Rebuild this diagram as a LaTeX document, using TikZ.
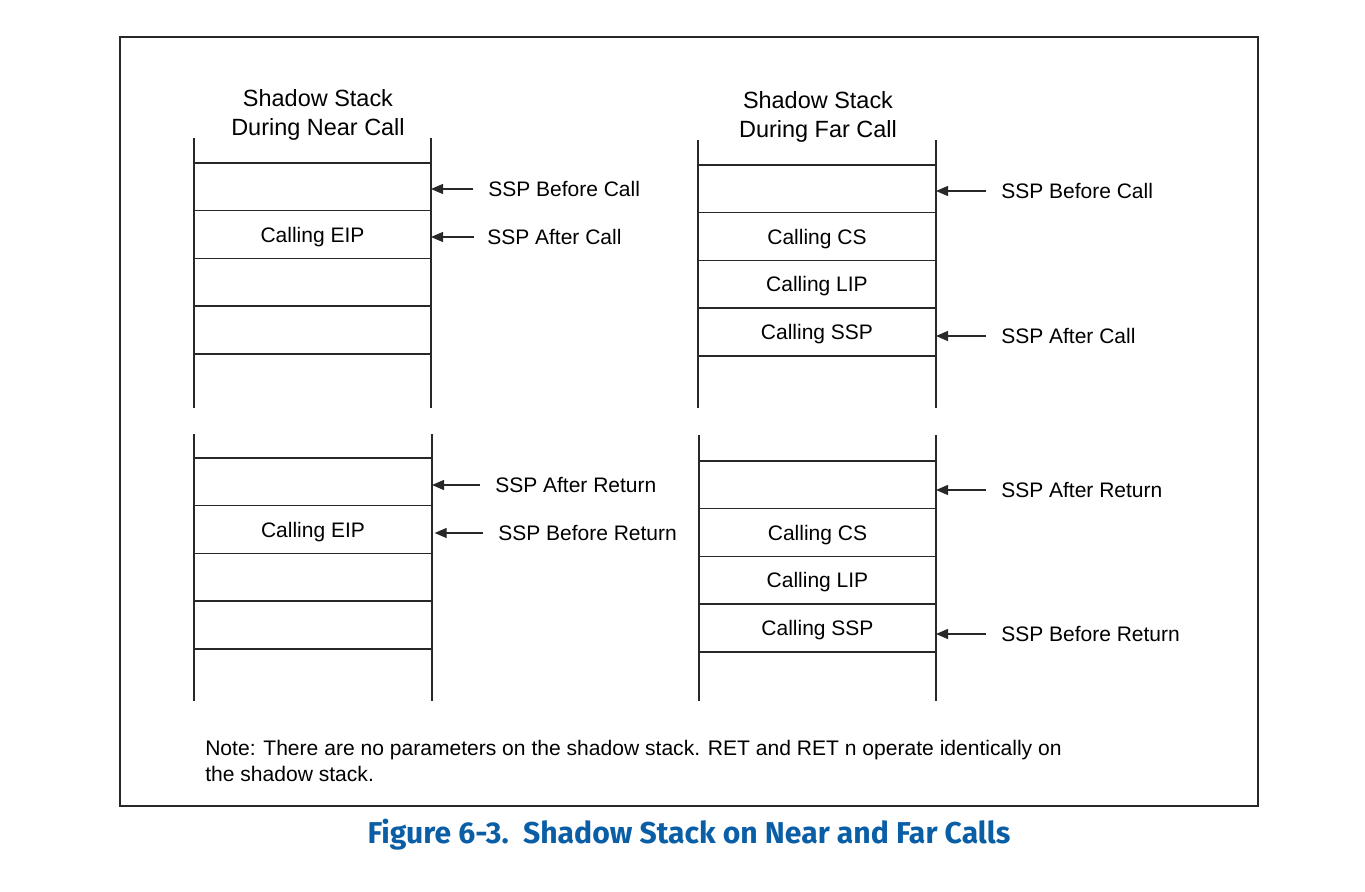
\documentclass[tikz,border=0pt]{standalone}
\usepackage{fontspec}
\setmainfont{Liberation Sans}
\newfontfamily\capfont{Fira Sans}
\usetikzlibrary{arrows.meta}
\definecolor{capblue}{RGB}{10,94,166}
\definecolor{linegray}{RGB}{40,40,40}
\begin{document}
\begin{tikzpicture}[x=0.75pt,y=-0.75pt,
  every node/.style={font=\fontsize{15.75pt}{21.75pt}\selectfont},
  cell/.style={draw=linegray,line width=1.1pt,minimum width=177.75pt,minimum height=35.8pt,inner sep=0pt,outer sep=0pt,text depth=-1.5pt},
  side/.style={draw=linegray,line width=1.1pt},
  ptr/.style={draw=linegray,line width=1pt,-{Triangle[length=9pt,width=7.5pt]}},
  lbl/.style={anchor=west,inner sep=0pt},
  ttl/.style={align=center,inner sep=0pt,font=\fontsize{17.6pt}{22pt}\selectfont},
]
\useasboundingbox (0,0) rectangle (1365,892);
\draw[linegray,line width=1.3pt] (120,37) rectangle (1258,806);

% ---- Near call (top)
\node[ttl] (t1) at (318,115) {Shadow Stack\\During Near Call};
\node[cell,anchor=north] (a1) at (312.5,163) {};
\node[cell,anchor=north] (a2) at (a1.south) {Calling EIP};
\node[cell,anchor=north] (a3) at (a2.south) {};
\node[cell,anchor=north] (a4) at (a3.south) {};
\coordinate (a1tl) at (194,138); \coordinate (a1tr) at (431,138);
\coordinate (a4bl) at (194,408); \coordinate (a4br) at (431,408);
\draw[side] (a1tl) -- (a1.north west) (a1tr) -- (a1.north east);
\draw[side] (a4.south west) -- (a4bl) (a4.south east) -- (a4br);
\node[lbl] (la1) at (488,189) {SSP Before Call};
\node[lbl] (la2) at (487,237) {SSP After Call};
\draw[ptr] ([xshift=-11pt]la1.west) -- (la1.west -| a1.east);
\draw[ptr] ([xshift=-10pt]la2.west) -- (la2.west -| a2.east);

% ---- Far call (top)
\node[ttl] (t2) at (818,117) {Shadow Stack\\During Far Call};
\node[cell,anchor=north,minimum width=178.5pt] (b1) at (817,165) {};
\node[cell,anchor=north,minimum width=178.5pt] (b2) at (b1.south) {Calling CS};
\node[cell,anchor=north,minimum width=178.5pt] (b3) at (b2.south) {Calling LIP};
\node[cell,anchor=north,minimum width=178.5pt] (b4) at (b3.south) {Calling SSP};
\coordinate (b1tl) at (698,140); \coordinate (b1tr) at (936,140);
\coordinate (b4bl) at (698,408); \coordinate (b4br) at (936,408);
\draw[side] (b1tl) -- (b1.north west) (b1tr) -- (b1.north east);
\draw[side] (b4.south west) -- (b4bl) (b4.south east) -- (b4br);
\node[lbl] (lb1) at (1001,191) {SSP Before Call};
\node[lbl] (lb4) at (1001,336) {SSP After Call};
\draw[ptr] ([xshift=-11pt]lb1.west) -- (lb1.west -| b1.east);
\draw[ptr] ([xshift=-11pt]lb4.west) -- (lb4.west -| b4.east);

% ---- Near return (bottom)
\node[cell,anchor=north,minimum width=178.5pt] (c1) at (313,458) {};
\node[cell,anchor=north,minimum width=178.5pt] (c2) at (c1.south) {Calling EIP};
\node[cell,anchor=north,minimum width=178.5pt] (c3) at (c2.south) {};
\node[cell,anchor=north,minimum width=178.5pt] (c4) at (c3.south) {};
\coordinate (c1tl) at (194,434); \coordinate (c1tr) at (432,434);
\coordinate (c4bl) at (194,701); \coordinate (c4br) at (432,701);
\draw[side] (c1tl) -- (c1.north west) (c1tr) -- (c1.north east);
\draw[side] (c4.south west) -- (c4bl) (c4.south east) -- (c4br);
\node[lbl] (lc1) at (495,485) {SSP After Return};
\node[lbl] (lc2) at (498,533) {SSP Before Return};
\draw[ptr] ([xshift=-11pt]lc1.west) -- (lc1.west -| c1.east);
\draw[ptr] ([xshift=-11pt]lc2.west) -- ([xshift=2pt]lc2.west -| c2.east);

% ---- Far return (bottom)
\node[cell,anchor=north] (d1) at (817.5,461) {};
\node[cell,anchor=north] (d2) at (d1.south) {Calling CS};
\node[cell,anchor=north] (d3) at (d2.south) {Calling LIP};
\node[cell,anchor=north] (d4) at (d3.south) {Calling SSP};
\coordinate (d1tl) at (699,435); \coordinate (d1tr) at (936,435);
\coordinate (d4bl) at (699,701); \coordinate (d4br) at (936,701);
\draw[side] (d1tl) -- (d1.north west) (d1tr) -- (d1.north east);
\draw[side] (d4.south west) -- (d4bl) (d4.south east) -- (d4br);
\node[lbl] (ld1) at (1001,490) {SSP After Return};
\node[lbl] (ld4) at (1001,634) {SSP Before Return};
\draw[ptr] ([xshift=-11pt]ld1.west) -- (ld1.west -| d1.east);
\draw[ptr] ([xshift=-11pt]ld4.west) -- (ld4.west -| d4.east);

% ---- Note and caption
\node[anchor=west,align=left,inner sep=0pt,font=\fontsize{15.8pt}{19.5pt}\selectfont] (note) at (205,761)
  {Note: There are no parameters on the shadow stack. RET and RET n operate identically on\\the shadow stack.};
\node[inner sep=0pt,text=capblue,font=\capfont\fontsize{22.6pt}{26pt}\selectfont\bfseries] (cap) at (689,835)
  {Figure 6-3.\ \ Shadow Stack on Near and Far Calls};
\end{tikzpicture}
\end{document}
